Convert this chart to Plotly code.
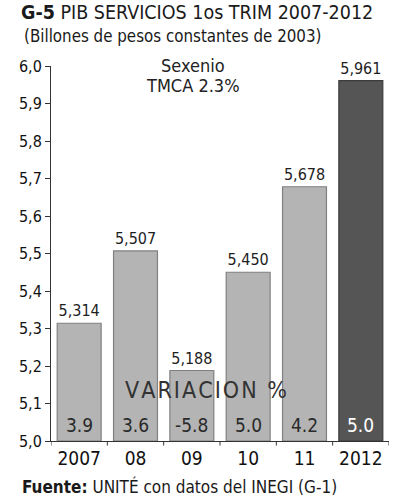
import plotly.graph_objects as go

categories = ["2007", "08", "09", "10", "11", "2012"]
values = [5.314, 5.507, 5.188, 5.450, 5.678, 5.961]
value_labels = ["5,314", "5,507", "5,188", "5,450", "5,678", "5,961"]
variation = ["3.9", "3.6", "-5.8", "5.0", "4.2", "5.0"]
y_ticks = [5.0, 5.1, 5.2, 5.3, 5.4, 5.5, 5.6, 5.7, 5.8, 5.9, 6.0]
y_tick_labels = ["5,0", "5,1", "5,2", "5,3", "5,4", "5,5", "5,6", "5,7", "5,8", "5,9", "6,0"]

FONT = "DejaVu Sans Condensed, Roboto, Arial, sans-serif"
light = "#b4b4b4"
dark = "#555555"
colors = [light] * 5 + [dark]
lines = ["#808080"] * 5 + ["#3c3c3c"]
HS = "\u200a"

fig = go.Figure()
fig.add_trace(go.Bar(
    x=categories, y=[v - 5.0 for v in values], base=5.0,
    marker=dict(color=colors, line=dict(color=lines, width=1.2)),
    width=0.78,
    text=value_labels, textposition="outside",
    textfont=dict(family=FONT, size=16, color="#1e1e1e"),
    cliponaxis=False,
    hoverinfo="skip",
))

annotations = []
for i, v in enumerate(variation):
    annotations.append(dict(
        x=i, y=5.043, xref="x", yref="y", text=v, showarrow=False,
        font=dict(family=FONT, size=19, color="#ffffff" if i == 5 else "#2a2a2a"),
    ))
annotations += [
    dict(x=2.256, y=5.136, xref="x", yref="y", text=HS.join("VARIACION %"), showarrow=False,
         font=dict(family=FONT, size=23, color="#333333")),
    dict(x=2.025, y=5.99, xref="x", yref="y", yshift=4, text="Sexenio", showarrow=False,
         font=dict(family=FONT, size=18, color="#222222")),
    dict(x=2.025, y=5.948, xref="x", yref="y", text="TMCA 2.3%", showarrow=False,
         font=dict(family=FONT, size=18, color="#222222")),
    dict(x=-0.095, y=1.143, xref="paper", yref="paper", xanchor="left", yanchor="middle",
         text="<b>G-5</b> PIB SERVICIOS 1os TRIM 2007-2012", showarrow=False,
         font=dict(family=FONT, size=19.5, color="#1a1a1a")),
    dict(x=-0.086, y=1.08, xref="paper", yref="paper", xanchor="left", yanchor="middle",
         text="(Billones de pesos constantes de 2003)", showarrow=False,
         font=dict(family=FONT, size=16.8, color="#1a1a1a")),
    dict(x=-0.092, y=-0.12, xref="paper", yref="paper", xanchor="left", yanchor="middle",
         text="<b>Fuente:</b> UNITÉ con datos del INEGI (G-1)", showarrow=False,
         font=dict(family=FONT, size=17, color="#1a1a1a")),
]

fig.update_layout(
    width=396, height=500,
    margin=dict(l=51, r=7, t=66, b=59),
    paper_bgcolor="white", plot_bgcolor="white",
    showlegend=False,
    annotations=annotations,
    font=dict(family=FONT, color="#222222"),
)
fig.update_xaxes(
    type="category", range=[-0.5, 5.5],
    showline=True, linecolor="#333333", linewidth=1,
    ticks="", tickfont=dict(family=FONT, size=19, color="#111111"),
    showgrid=False,
)
fig.update_yaxes(
    range=[5.0, 6.0], tickvals=y_ticks, ticktext=y_tick_labels,
    showline=True, linecolor="#333333", linewidth=1,
    ticks="outside", ticklen=5, tickcolor="#333333",
    tickfont=dict(family=FONT, size=16, color="#111111"),
    showgrid=False, zeroline=False,
)
for b in [-0.5, 0.5, 1.5, 2.5, 3.5, 4.5, 5.5]:
    fig.add_shape(type="line", xref="x", yref="paper", x0=b, x1=b, y0=0, y1=-0.012,
                  line=dict(color="#333333", width=1))

fig.write_html("out.html", config={"displayModeBar": False},
               post_script="document.body.style.margin='0';")
